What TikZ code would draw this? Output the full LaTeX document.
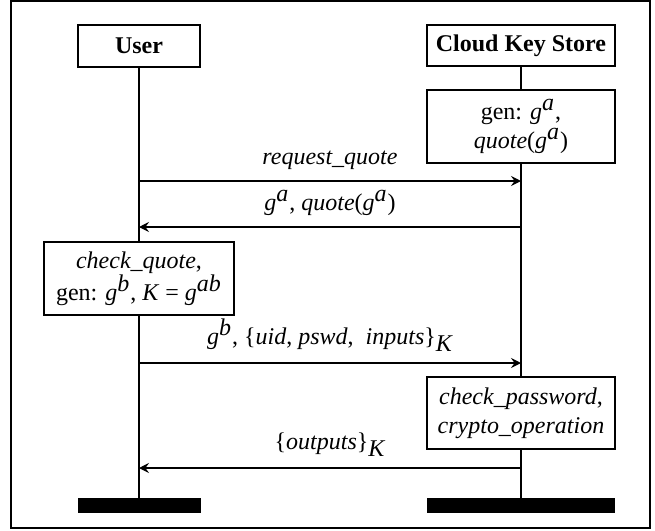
\documentclass[tikz,border=0pt]{standalone}
\usepackage{fontspec}
\setmainfont{Liberation Serif}
\usetikzlibrary{arrows.meta}
\newcommand{\sups}[1]{$^{\textit{#1}}$}
\newcommand{\subs}[1]{$_{\textit{#1}}$}

\begin{document}
\begin{tikzpicture}[x=0.5pt,y=-0.5pt,font=\fontsize{12}{14.5}\selectfont,
	component/.style={draw,shape=rectangle,line width=0.65pt,fill=white,align=center,inner sep=2pt,minimum width=94pt},
	lifebar/.style={fill=black,shape=rectangle,inner sep=0pt,minimum height=7.5pt},
	msg/.style={-{Stealth[length=5pt,width=5pt,inset=1.8pt]},line width=0.65pt}]
		\useasboundingbox (0,0) rectangle (655,531);
		\draw[line width=0.8pt] (11,1) rectangle (650,528);
		%%%
		\node[component,minimum width=61pt,minimum height=21pt] (user) at (139,46) {\bfseries User};
		\node[component,minimum height=20.5pt] (store) at (521,45.5) {\bfseries Cloud Key Store};
		\node[component,minimum height=36.5pt] (genA) at (521,126.5) {gen: \textit{g}\sups{a},\\ \textit{quote}(\textit{g}\sups{a})};
		\node[component,minimum width=95pt,minimum height=36.5pt] (checkquote) at (139,278.5) {\textit{check\_quote},\\ gen: \textit{g}\sups{b}, \textit{K} = \textit{g}\sups{ab}};
		\node[component,minimum height=36pt] (checkpw) at (521,413) {\textit{check\_password},\\ \textit{crypto\_operation}};
		\node[lifebar,minimum width=61.5pt] (barUser) at (139,505.5) {};
		\node[lifebar,minimum width=94pt] (barStore) at (521,505.5) {};
		%%%
		\draw[line width=1pt] (user) -- (checkquote) -- (barUser);
		\draw[line width=1pt] (store) -- (genA) -- (checkpw) -- (barStore);
		%%%
		\draw[msg] (user.south |- 0,181) -- (store.south |- 0,181) node[midway,above=2pt] {\textit{request\_quote}};
		\draw[msg] (store.south |- 0,227) -- (user.south |- 0,227) node[midway,above=2pt] {\textit{g}\sups{a}, \textit{quote}(\textit{g}\sups{a})};
		\draw[msg] (user.south |- 0,363) -- (store.south |- 0,363) node[midway,above=2pt] {\textit{g}\sups{b}, \{\textit{uid}, \textit{pswd},~ \textit{inputs}\}\subs{K}};
		\draw[msg] (store.south |- 0,468) -- (user.south |- 0,468) node[midway,above=2pt] {\{\textit{outputs}\}\subs{K}};
	\end{tikzpicture}
\end{document}
